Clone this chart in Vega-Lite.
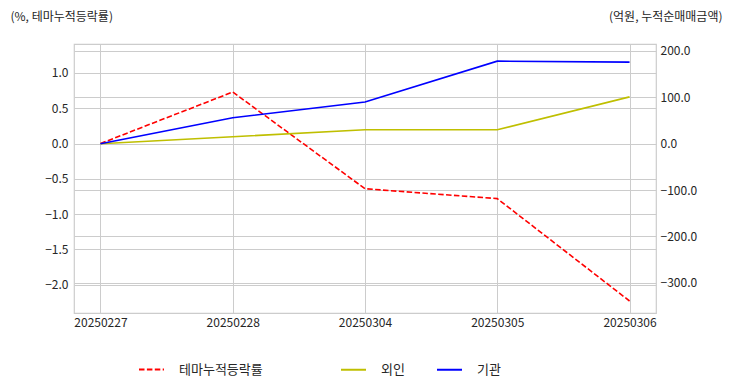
{
  "$schema": "https://vega.github.io/schema/vega-lite/v6.json",
  "width": 582,
  "height": 269,
  "autosize": {"type": "none"},
  "padding": {"left": 74, "top": 44, "right": 76, "bottom": 79},
  "config": {
    "font": "Noto Sans CJK KR",
    "view": {"stroke": "#cccccc", "strokeWidth": 1.2},
    "axis": {
      "domain": false,
      "ticks": false,
      "gridColor": "#cccccc",
      "gridWidth": 1,
      "labelColor": "#262626",
      "labelFontSize": 12,
      "titleColor": "#262626",
      "titleFontSize": 12,
      "titleFontWeight": "normal"
    },
    "legend": {
      "title": null,
      "orient": "none",
      "direction": "horizontal",
      "symbolType": "stroke",
      "symbolSize": 625,
      "symbolStrokeWidth": 2,
      "labelFontSize": 13,
      "labelColor": "#262626",
      "labelOffset": 14,
      "columnPadding": 28
    }
  },
  "datasets": {
    "theme": [
      {"date": "20250227", "series": "테마누적등락률", "value": 0.0},
      {"date": "20250228", "series": "테마누적등락률", "value": 0.73},
      {"date": "20250304", "series": "테마누적등락률", "value": -0.64},
      {"date": "20250305", "series": "테마누적등락률", "value": -0.78},
      {"date": "20250306", "series": "테마누적등락률", "value": -2.23}
    ],
    "flow": [
      {"date": "20250227", "series": "외인", "value": 0},
      {"date": "20250228", "series": "외인", "value": 15},
      {"date": "20250304", "series": "외인", "value": 30},
      {"date": "20250305", "series": "외인", "value": 30},
      {"date": "20250306", "series": "외인", "value": 101},
      {"date": "20250227", "series": "기관", "value": 0},
      {"date": "20250228", "series": "기관", "value": 56},
      {"date": "20250304", "series": "기관", "value": 90},
      {"date": "20250305", "series": "기관", "value": 178},
      {"date": "20250306", "series": "기관", "value": 176}
    ]
  },
  "encoding": {
    "x": {
      "field": "date",
      "type": "ordinal",
      "scale": {"type": "point", "padding": 0.2},
      "sort": null,
      "axis": {"title": null, "labelAngle": 0, "labelPadding": 4, "grid": true}
    }
  },
  "layer": [
    {
      "data": {"name": "theme"},
      "mark": {"type": "line", "strokeWidth": 1.6},
      "encoding": {
        "y": {
          "field": "value",
          "type": "quantitative",
          "scale": {"domain": [-2.4, 1.41], "nice": false, "zero": false},
          "axis": {
            "values": [-2.0, -1.5, -1.0, -0.5, 0.0, 0.5, 1.0],
            "format": ".1f",
            "labelPadding": 6,
            "title": "(%, 테마누적등락률)",
            "titleAngle": 0,
            "titleAlign": "left",
            "titleBaseline": "middle",
            "titleX": -64,
            "titleY": -28
          }
        },
        "color": {
          "field": "series",
          "type": "nominal",
          "scale": {"domain": ["테마누적등락률"], "range": ["#ff0000"]},
          "legend": {"legendX": 64, "legendY": 312}
        },
        "strokeDash": {
          "field": "series",
          "type": "nominal",
          "scale": {"domain": ["테마누적등락률"], "range": [[5.5, 2.4]]},
          "legend": {"legendX": 64, "legendY": 312}
        }
      }
    },
    {
      "data": {"name": "flow"},
      "mark": {"type": "line", "strokeWidth": 1.6},
      "encoding": {
        "y": {
          "field": "value",
          "type": "quantitative",
          "scale": {"domain": [-365, 215], "nice": false, "zero": false},
          "axis": {
            "orient": "right",
            "grid": true,
            "values": [-300, -200, -100, 0, 100, 200],
            "format": ".1f",
            "labelPadding": 4,
            "title": "(억원, 누적순매매금액)",
            "titleAngle": 0,
            "titleAlign": "right",
            "titleBaseline": "middle",
            "titleX": 66,
            "titleY": -28
          }
        },
        "color": {
          "field": "series",
          "type": "nominal",
          "scale": {"domain": ["외인", "기관"], "range": ["#bfbf00", "#0000ff"]},
          "legend": {"legendX": 266, "legendY": 312}
        }
      }
    }
  ],
  "resolve": {
    "scale": {"y": "independent", "color": "independent", "strokeDash": "independent"},
    "axis": {"y": "independent"},
    "legend": {"color": "independent", "strokeDash": "independent"}
  }
}
